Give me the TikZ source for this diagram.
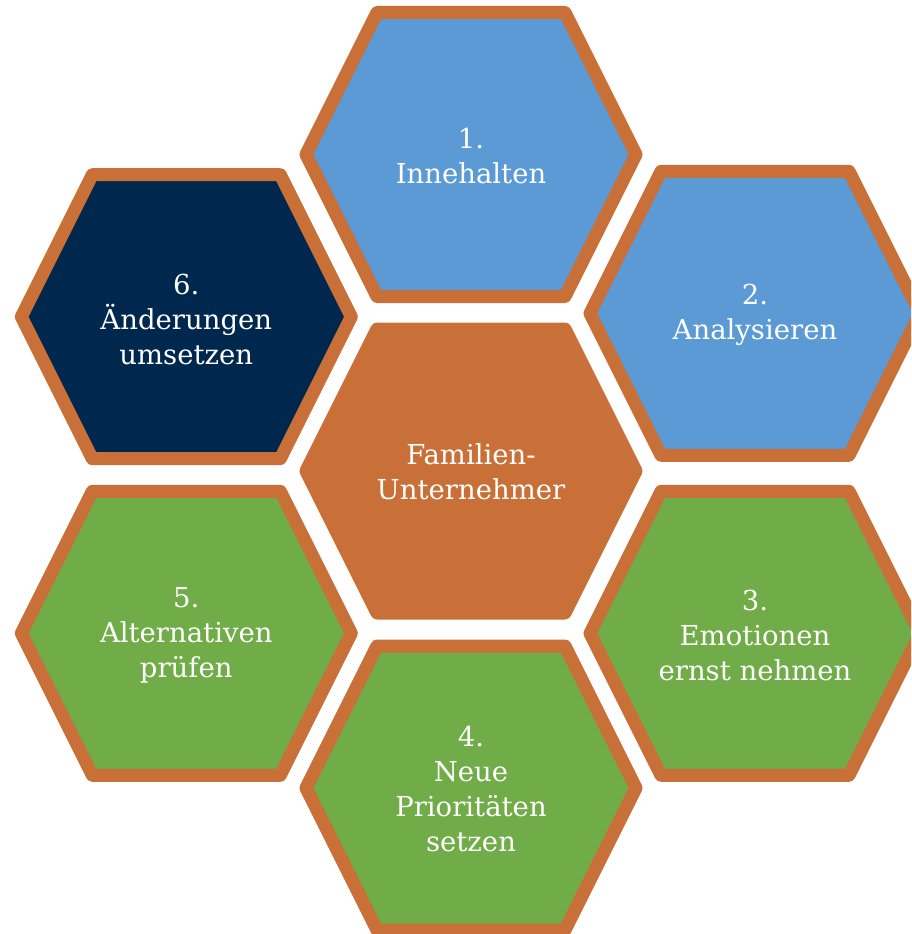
\documentclass[tikz,border=0pt]{standalone}
\usepackage{fontspec}
\setmainfont{DejaVu Serif}
\definecolor{hexorange}{HTML}{C97038}
\definecolor{hexblue}{HTML}{5B9AD5}
\definecolor{hexnavy}{HTML}{00284F}
\definecolor{hexgreen}{HTML}{70AC47}
\tikzset{
  hexbox/.style={draw=hexorange, line width=13pt, line join=round},
  hextext/.style={text=white, align=center, inner sep=0pt,
    font=\fontsize{27.5}{35}\selectfont},
}
\newcommand{\hexshape}[3]{%
  \path[hexbox, fill=#3, shift={(#1,#2)}]
    (-165,0) -- (-94,-142) -- (94,-142) -- (165,0) -- (94,142) -- (-94,142) -- cycle;}
\begin{document}
\begin{tikzpicture}[x=1pt,y=-1pt]
\useasboundingbox (0,0) rectangle (911,934);
\clip (0,0) rectangle (911,934);
\hexshape{471}{154.5}{hexblue}
\hexshape{755}{313.3}{hexblue}
\hexshape{755}{633.3}{hexgreen}
\hexshape{471}{788}{hexgreen}
\hexshape{186.3}{633.3}{hexgreen}
\hexshape{186.3}{316.7}{hexnavy}
\hexshape{471}{471}{hexorange}
\node[hextext] (t1) at (471,156) {1.\\Innehalten};
\node[hextext] (t2) at (755,315) {2.\\Analysieren};
\node[hextext] (t3) at (755,635) {3.\\Emotionen\\ernst nehmen};
\node[hextext] (t4) at (471,789) {4.\\Neue\\Prioritäten\\setzen};
\node[hextext] (t5) at (186.3,635) {5.\\Alternativen\\prüfen};
\node[hextext] (t6) at (186.3,319) {6.\\Änderungen\\umsetzen};
\node[hextext] (tc) at (471,472) {Familien-\\Unternehmer};
\end{tikzpicture}
\end{document}
